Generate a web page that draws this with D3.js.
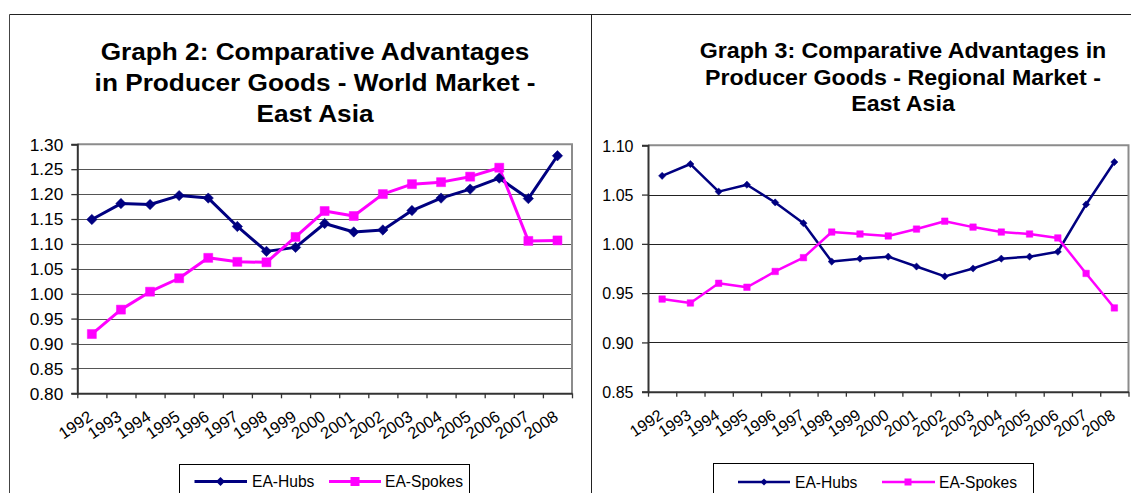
<!DOCTYPE html>
<html><head><meta charset="utf-8">
<script src="https://cdn.jsdelivr.net/npm/d3@7"></script>
<style>
body{margin:0;background:#fff}
svg{display:block}
text{font-family:"Liberation Sans",Arial,Helvetica,sans-serif;fill:#000}
</style>
</head><body>
<svg id="c" width="1131" height="493"></svg>
<script>
// ---------- DATA ----------
const years = ['1992','1993','1994','1995','1996','1997','1998','1999','2000','2001','2002','2003','2004','2005','2006','2007','2008'];
const worldHubs      = [1.149,1.181,1.179,1.197,1.192,1.135,1.085,1.093,1.141,1.124,1.128,1.167,1.192,1.210,1.232,1.191,1.277];
const worldSpokes    = [0.919,0.968,1.004,1.031,1.072,1.064,1.063,1.114,1.166,1.156,1.200,1.220,1.224,1.235,1.253,1.106,1.107];
const regionalHubs   = [1.069,1.081,1.053,1.060,1.042,1.021,0.982,0.985,0.987,0.977,0.967,0.975,0.985,0.987,0.992,1.040,1.083];
const regionalSpokes = [0.944,0.940,0.960,0.956,0.972,0.986,1.012,1.010,1.008,1.015,1.023,1.017,1.012,1.010,1.006,0.970,0.935];
const worldTicks    = [0.80,0.85,0.90,0.95,1.00,1.05,1.10,1.15,1.20,1.25,1.30];
const regionalTicks = [0.85,0.90,0.95,1.00,1.05,1.10];
const seriesNames  = ['EA-Hubs','EA-Spokes'];
const seriesColors = ['#000080','#FF00FF'];
const worldTitle    = ['Graph 2: Comparative Advantages','in Producer Goods - World Market -','East Asia'];
const regionalTitle = ['Graph 3: Comparative Advantages in','Producer Goods - Regional Market -','East Asia'];

// ---------- LAYOUT ----------
const FONT = '"Liberation Sans",Arial,Helvetica,sans-serif';
const svg = d3.select('#c');
const fmt = d3.format('.2f');

// frame lines (table cell borders)
svg.append('line').attr('x1',9.5).attr('x2',1131).attr('y1',14.5).attr('y2',14.5).attr('stroke','#222').attr('stroke-width',1);
svg.append('line').attr('x1',9.5).attr('x2',9.5).attr('y1',14.5).attr('y2',493).attr('stroke','#444').attr('stroke-width',1);
svg.append('line').attr('x1',591.5).attr('x2',591.5).attr('y1',14.5).attr('y2',493).attr('stroke','#222').attr('stroke-width',1);

const panels = [
  {title: worldTitle, hubs: worldHubs, spokes: worldSpokes, ticks: worldTicks,
   x0: 77.3, x1: 572, yTop: 144.3, yBot: 393.3,
   titleCx: 315, titleBase: [60, 91, 122], titleSize: 23, titleSx: 1.14,
   ySize: 16, ySx: 1.08, yGap: 14, xSize: 16.5, lw: 3, dr: 5.2, sq: 9,
   grid: '#555', gridW: 1.2,
   legend: {x: 179.5, y: 464.5, w: 290, h: 40, l1: [194.5,247], m1: 220.5, t1: 252, l2: [329,381], m2: 355, t2: 385, ty: 481.5, dr: 4.5, sq: 9}},
  {title: regionalTitle, hubs: regionalHubs, spokes: regionalSpokes, ticks: regionalTicks,
   x0: 648, x1: 1128.5, yTop: 145.3, yBot: 391.7,
   titleCx: 903, titleBase: [58, 84.5, 111], titleSize: 21.5, titleSx: 1.08,
   ySize: 16, ySx: 1, yGap: 14.5, xSize: 16, lw: 2.5, dr: 3.6, sq: 6.5,
   grid: '#222', gridW: 1,
   legend: {x: 713.5, y: 463.5, w: 320, h: 40, l1: [738,790], m1: 764, t1: 795, l2: [882,935], m2: 908, t2: 939, ty: 482, dr: 3.5, sq: 7}}
];

function diamond(r){ return `M0,${-r}L${r},0L0,${r}L${-r},0Z`; }
function square(s){ const h=s/2; return `M${-h},${-h}H${h}V${h}H${-h}Z`; }

panels.forEach(p => {
  const g = svg.append('g');
  const x = d3.scaleBand().domain(years).range([p.x0, p.x1]).padding(0);
  const cx = d => x(d) + x.bandwidth()/2;
  const dom = d3.extent(p.ticks);
  const y = d3.scaleLinear().domain(dom).range([p.yBot, p.yTop]);

  // title
  p.title.forEach((t,i) => {
    g.append('text')
      .attr('transform', `translate(${p.titleCx},${p.titleBase[i]}) scale(${p.titleSx},1)`)
      .attr('text-anchor','middle').attr('font-weight','bold').attr('font-size', p.titleSize)
      .attr('font-family', FONT)
      .text(t);
  });

  // gridlines
  g.append('g').selectAll('line').data(p.ticks.slice(1, -1)).join('line')
    .attr('x1', p.x0).attr('x2', p.x1)
    .attr('y1', d => Math.round(y(d)) + 0.5).attr('y2', d => Math.round(y(d)) + 0.5)
    .attr('stroke', p.grid).attr('stroke-width', p.gridW);

  // plot area top/right border (gray)
  g.append('path')
    .attr('d', `M${p.x0},${y(dom[1])}H${p.x1}V${y(dom[0])}`)
    .attr('fill','none').attr('stroke','#8c8c8c').attr('stroke-width',2);

  // y axis
  const ya = d3.axisLeft(y).tickValues(p.ticks).tickFormat(fmt).tickSize(6).tickPadding(0);
  const yg = g.append('g').attr('transform', `translate(${p.x0},0)`).call(ya);
  yg.attr('font-family', FONT).attr('font-size', p.ySize);
  yg.select('.domain').attr('stroke','#333').attr('stroke-width',2);
  yg.selectAll('.tick line').attr('stroke','#333').attr('stroke-width',1.3);
  yg.selectAll('.tick text')
    .attr('x', null).attr('dy', null)
    .attr('transform', `translate(${-p.yGap},0) scale(${p.ySx},1)`)
    .attr('y', p.ySize*0.36)
    .attr('font-size', p.ySize).attr('fill','#000')
    .attr('text-anchor','end');

  // x axis: boundary ticks via linear scale over category indices
  const xb = d3.scaleLinear().domain([0, years.length]).range([p.x0, p.x1]);
  const xa = d3.axisBottom(xb).tickValues(d3.range(years.length + 1)).tickFormat('').tickSize(5).tickSizeOuter(0);
  const xg = g.append('g').attr('transform', `translate(0,${p.yBot})`).call(xa);
  xg.select('.domain').attr('stroke','#333').attr('stroke-width',2);
  xg.selectAll('.tick line').attr('stroke','#333').attr('stroke-width',1.3);

  // x labels via band axis
  const xl = d3.axisBottom(x).tickSize(0).tickPadding(0);
  const xlg = g.append('g').attr('transform', `translate(0,${p.yBot})`).call(xl);
  xlg.attr('font-family', FONT).attr('font-size', p.xSize);
  xlg.select('.domain').remove();
  xlg.selectAll('.tick text')
    .attr('y', null).attr('dy', null)
    .attr('transform', 'translate(2,26) rotate(-34)')
    .attr('text-anchor','end').attr('font-size', p.xSize).attr('fill','#000');

  // series
  [p.hubs, p.spokes].forEach((vals, si) => {
    const line = d3.line().x((d,i) => cx(years[i])).y(d => y(d));
    g.append('path').datum(vals).attr('d', line)
      .attr('fill','none').attr('stroke', seriesColors[si]).attr('stroke-width', p.lw)
      .attr('stroke-linejoin','round');
  });
  [p.hubs, p.spokes].forEach((vals, si) => {
    g.append('g').selectAll('path').data(vals).join('path')
      .attr('transform', (d,i) => `translate(${cx(years[i])},${y(d)})`)
      .attr('d', si === 0 ? diamond(p.dr) : square(p.sq))
      .attr('fill', seriesColors[si]).attr('stroke', seriesColors[si]).attr('stroke-width', 0.5);
  });

  // legend
  const L = p.legend;
  const lg = g.append('g');
  lg.append('rect').attr('x', L.x).attr('y', L.y).attr('width', L.w).attr('height', L.h)
    .attr('fill','#fff').attr('stroke','#000').attr('stroke-width',1);
  const items = [
    {l: L.l1, m: L.m1, t: L.t1, shape: diamond(L.dr)},
    {l: L.l2, m: L.m2, t: L.t2, shape: square(L.sq)}
  ];
  items.forEach((it, si) => {
    lg.append('line').attr('x1', it.l[0]).attr('x2', it.l[1]).attr('y1', L.ty).attr('y2', L.ty)
      .attr('stroke', seriesColors[si]).attr('stroke-width', p.lw);
    lg.append('path').attr('transform', `translate(${it.m},${L.ty})`).attr('d', it.shape)
      .attr('fill', seriesColors[si]);
    lg.append('text').attr('x', it.t).attr('y', L.ty + 5.5).attr('font-size', 15.6)
      .attr('font-family', FONT).text(seriesNames[si]);
  });
});
</script>
</body></html>
